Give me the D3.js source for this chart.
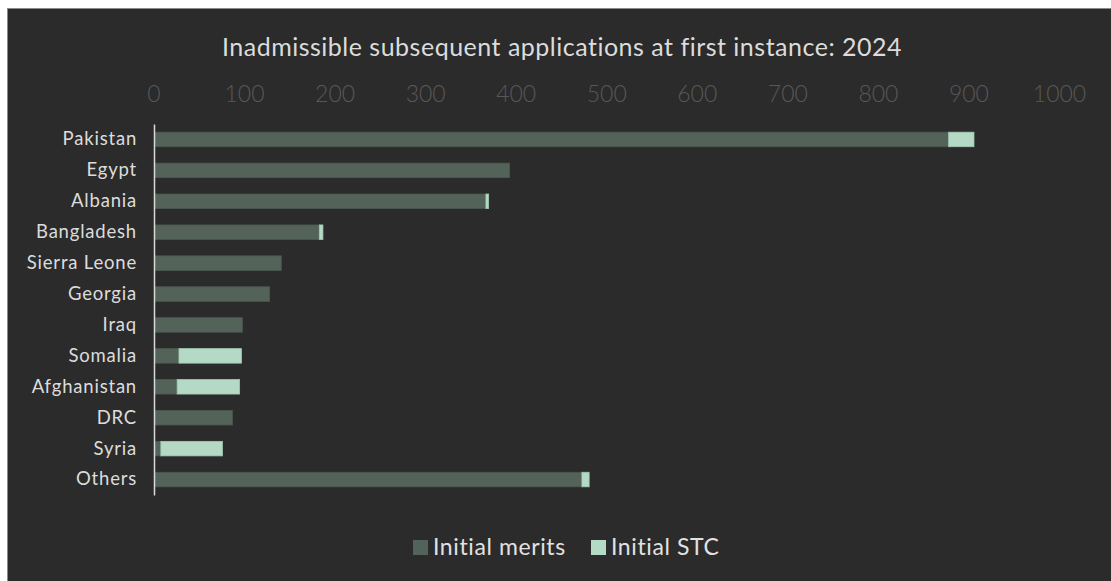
<!DOCTYPE html>
<html>
<head>
<meta charset="utf-8">
<script src="https://cdn.jsdelivr.net/npm/d3@7"></script>
<style>
  html, body { margin: 0; padding: 0; background: #ffffff; }
  svg { display: block; }
  text { font-family: "Lato", "DejaVu Sans", sans-serif; }
</style>
</head>
<body>
<svg id="chart" width="1111" height="581"></svg>
<script>
const title = "Inadmissible subsequent applications at first instance: 2024";
const categories = ["Pakistan", "Egypt", "Albania", "Bangladesh", "Sierra Leone", "Georgia", "Iraq", "Somalia", "Afghanistan", "DRC", "Syria", "Others"];
const seriesNames = ["Initial merits", "Initial STC"];
const initialMerits = [877, 392, 366, 182, 140, 127, 97, 27, 25, 86, 7, 472];
const initialSTC = [28, 0, 3, 4, 0, 0, 0, 69, 69, 0, 68, 8];
const xTicks = [0, 100, 200, 300, 400, 500, 600, 700, 800, 900, 1000];
const colors = ["#546359", "#b4d9c4"];

const svg = d3.select("#chart");
const W = 1111, H = 581;

// chart frame
svg.append("rect").attr("x", 7.5).attr("y", 8.5).attr("width", W).attr("height", H)
  .attr("fill", "#2b2b2b").attr("stroke", "#8a8a8a").attr("stroke-width", 1);

const x = d3.scaleLinear().domain([0, 1000]).range([153.5, 1059]);
const y = d3.scaleBand().domain(categories).range([124, 495]).paddingInner(0.53).paddingOuter(0.265);

// title
svg.append("text").attr("x", 562).attr("y", 56).attr("text-anchor", "middle")
  .attr("fill", "#dcdcdc").attr("font-size", 25).attr("letter-spacing", 0.5).text(title);

// top axis labels
const xAxis = d3.axisTop(x).tickValues(xTicks).tickSize(0).tickPadding(0).tickFormat(d3.format("d"));
const gx = svg.append("g").attr("transform", "translate(0,102)").call(xAxis);
gx.select(".domain").remove();
gx.selectAll("text").attr("fill", "#585858").attr("font-size", 23).attr("font-weight", 300).attr("font-family", null);

// stacked data
const rows = categories.map((c, i) => ({ cat: c, "Initial merits": initialMerits[i], "Initial STC": initialSTC[i] }));
const stacked = d3.stack().keys(seriesNames)(rows);

svg.append("g").selectAll("g").data(stacked).join("g")
  .attr("fill", (d, i) => colors[i])
  .attr("stroke", (d, i) => i === 0 ? "#4b5950" : "#a3c9b4")
  .attr("stroke-width", 0.8)
  .selectAll("rect").data(d => d.filter(v => v[1] - v[0] > 0)).join("rect")
  .attr("x", d => x(d[0]) + 1)
  .attr("y", d => y(d.data.cat))
  .attr("width", d => Math.max(0, x(d[1]) - x(d[0])))
  .attr("height", y.bandwidth());

// left axis (category labels + vertical line)
const yAxis = d3.axisLeft(y).tickSize(0).tickSizeOuter(0).tickPadding(17);
const gy = svg.append("g").attr("transform", "translate(154,0)").call(yAxis);
gy.select(".domain").attr("stroke", "#d9d9d9").attr("stroke-width", 1.5);
gy.selectAll("text").attr("fill", "#dcdcdc").attr("font-size", 18.5).attr("letter-spacing", 0.8).attr("font-family", null);

// legend
const legendX = [413, 591];
const lg = svg.append("g").selectAll("g").data(seriesNames).join("g")
  .attr("transform", (d, i) => `translate(${legendX[i]},0)`);
lg.append("rect").attr("x", 0).attr("y", 540).attr("width", 15).attr("height", 15)
  .attr("fill", (d, i) => colors[i]);
lg.append("text").attr("x", 20).attr("y", 555).attr("fill", "#e2e2e2").attr("font-size", 23).attr("letter-spacing", 0.6)
  .text(d => d);
</script>
</body>
</html>
